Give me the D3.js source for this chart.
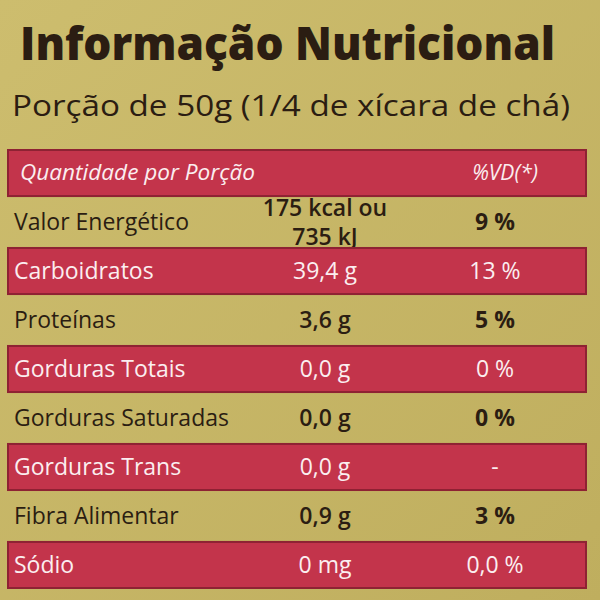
<!DOCTYPE html>
<html><head><meta charset="utf-8">
<script src="https://cdn.jsdelivr.net/npm/d3@7/dist/d3.min.js"></script>
<style>body{margin:0;background:#c6b566}</style></head>
<body><svg id="c" width="600" height="600"></svg>
<script>
const nutrients = ["Valor Energético","Carboidratos","Proteínas","Gorduras Totais","Gorduras Saturadas","Gorduras Trans","Fibra Alimentar","Sódio"];
const amounts = [["175 kcal ou","735 kJ"],["39,4 g"],["3,6 g"],["0,0 g"],["0,0 g"],["0,0 g"],["0,9 g"],["0 mg"]];
const dailyValues = ["9 %","13 %","5 %","0 %","0 %","-","3 %","0,0 %"];
const headers = ["Quantidade por Porção","%VD(*)"];
const title = "Informação Nutricional";
const subtitle = "Porção de 50g (1/4 de xícara de chá)";

const svg = d3.select("#c");
const font = "'Open Sans', sans-serif";
const defs = svg.append("defs");
const g = defs.append("linearGradient").attr("id","bg").attr("x1",0).attr("y1",0).attr("x2",1).attr("y2",1);
g.append("stop").attr("offset",0).attr("stop-color","#cdbd6e");
g.append("stop").attr("offset",1).attr("stop-color","#bfae5e");
svg.append("rect").attr("width",600).attr("height",600).attr("fill","url(#bg)");

svg.append("text").attr("x",20).attr("y",60).text(title)
 .attr("font-family",font).attr("font-weight",800).attr("font-size",46).attr("fill","#2b1d12")
 .attr("textLength",535).attr("lengthAdjust","spacingAndGlyphs");
svg.append("text").attr("x",12).attr("y",116).text(subtitle)
 .attr("font-family",font).attr("font-size",30).attr("fill","#2b1d12")
 .attr("textLength",558).attr("lengthAdjust","spacingAndGlyphs");

const rows = ["header", ...nutrients];
const y = d3.scaleBand().domain(rows.map((d,i)=>i)).range([150,588]).paddingInner(0.06);
const band = (i)=>svg.append("rect").attr("x",8).attr("width",578).attr("y",y(i)).attr("height",y.bandwidth())
  .attr("fill","#c3344b").attr("stroke","#8e2233").attr("stroke-width",2);

band(0);
const hc = y(0)+y.bandwidth()/2;
svg.append("text").attr("x",20).attr("y",hc).attr("dy","0.35em").text(headers[0])
 .attr("font-family",font).attr("font-style","italic").attr("font-size",21).attr("fill","#fbeef0")
 .attr("textLength",235).attr("lengthAdjust","spacingAndGlyphs");
svg.append("text").attr("x",505).attr("y",hc).attr("dy","0.35em").attr("text-anchor","middle").text(headers[1])
 .attr("font-family",font).attr("font-style","italic").attr("font-size",21).attr("fill","#fbeef0");

nutrients.forEach((n,k)=>{
  const i=k+1, red = i%2===0;
  if(red) band(i);
  const c = y(i)+y.bandwidth()/2;
  const col = red ? "#fbeef0" : "#2b1d12";
  const w = red ? 400 : 500;
  svg.append("text").attr("x",14).attr("y",c).attr("dy","0.35em").text(n)
    .attr("font-family",font).attr("font-size",23).attr("font-weight",w).attr("fill",col);
  const a = amounts[k];
  a.forEach((t,j)=>{
    svg.append("text").attr("x",325).attr("y",c+(j-(a.length-1)/2)*29).attr("dy","0.35em").attr("text-anchor","middle").text(t)
      .attr("font-family",font).attr("font-size",23).attr("font-weight",red?400:600).attr("fill",col);
  });
  svg.append("text").attr("x",495).attr("y",c).attr("dy","0.35em").attr("text-anchor","middle").text(dailyValues[k])
    .attr("font-family",font).attr("font-size",23).attr("font-weight",red?400:700).attr("fill",col);
});
</script></body></html>
